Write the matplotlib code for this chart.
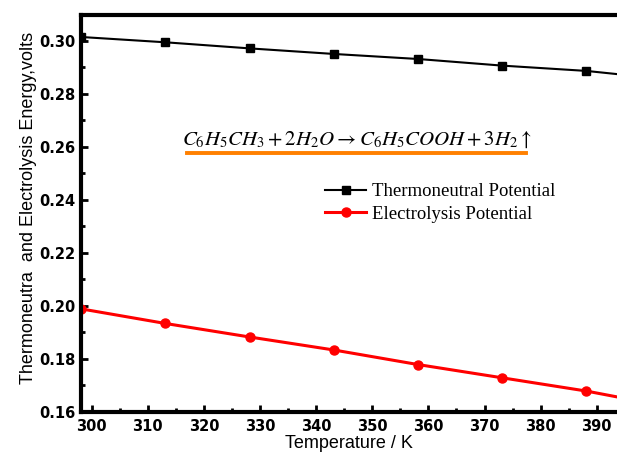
import matplotlib
matplotlib.use("Agg")
import matplotlib.pyplot as plt
from matplotlib.lines import Line2D
from matplotlib.ticker import MultipleLocator

# ---- data ----
temperature = [298.15, 313.15, 328.15, 343.15, 358.15, 373.15, 388.15, 393.6]
thermoneutral = [0.3015, 0.2995, 0.2972, 0.2951, 0.2932, 0.2907, 0.2887, 0.2875]
electrolysis = [0.1989, 0.1934, 0.1883, 0.1834, 0.1779, 0.1729, 0.1679, 0.1657]
series_labels = ["Thermoneutral Potential", "Electrolysis Potential"]
x_label = "Temperature / K"
y_label = "Thermoneutra  and Electrolysis Energy,volts"
equation = r"$C_6H_5CH_3 + 2H_2O \rightarrow C_6H_5COOH + 3H_2\uparrow$"

W, H = 617, 455
fig = plt.figure(figsize=(W / 100, H / 100), dpi=100)
ax = fig.add_axes([81 / W, 1 - 412 / H, 1 - 81 / W, (412 - 15) / H])

marks = list(range(7))
ax.plot(temperature, thermoneutral, color="black", lw=1.5, marker="s",
        markersize=6, markevery=marks, label=series_labels[0])
ax.plot(temperature, electrolysis, color="#ff0000", lw=2.2, marker="o",
        markersize=6.5, markevery=marks, label=series_labels[1])

ax.set_xlim(298.1, 393.6)
ax.set_ylim(0.16, 0.3098)
ax.xaxis.set_major_locator(MultipleLocator(10))
ax.xaxis.set_minor_locator(MultipleLocator(5))
ax.yaxis.set_major_locator(MultipleLocator(0.02))
ax.yaxis.set_minor_locator(MultipleLocator(0.01))
ax.yaxis.set_major_formatter(matplotlib.ticker.FormatStrFormatter("%.2f"))

for s in ["left", "bottom", "top"]:
    ax.spines[s].set_linewidth(3)
ax.spines["right"].set_visible(False)

ax.tick_params(which="both", direction="in", width=2, top=False, right=False)
ax.tick_params(which="major", length=5)
ax.tick_params(which="minor", length=3)
ax.tick_params(axis="y", pad=4)
ax.tick_params(axis="x", pad=5)
for lab in ax.get_xticklabels() + ax.get_yticklabels():
    lab.set_fontweight("bold")
    lab.set_fontsize(10.5)
    lab.set_family("DejaVu Sans")

ax.set_xlabel(x_label, fontsize=13, family="Liberation Sans", labelpad=1)
ax.set_ylabel(y_label, fontsize=13, family="Liberation Sans")
ax.yaxis.set_label_coords(-(81 - 37) / (W - 81), 1 - (208 - 15) / (412 - 15))

leg = ax.legend(loc="center left", bbox_to_anchor=(325 / W, 1 - 203 / H),
                bbox_transform=fig.transFigure, frameon=False,
                prop={"family": "Liberation Serif", "size": 13.5},
                handlelength=2.2, handletextpad=0.3, labelspacing=0.3,
                borderpad=0, borderaxespad=0)

plt.rcParams["mathtext.fontset"] = "stix"
fig.text(357 / W, 1 - 140 / H, equation, ha="center", va="center",
         fontsize=15, math_fontfamily="stix")
fig.add_artist(Line2D([187 / W, 526 / W], [1 - 153 / H, 1 - 153 / H],
                      transform=fig.transFigure, color="#ff8000", lw=2.8))

fig.savefig("out.png", dpi=100)
